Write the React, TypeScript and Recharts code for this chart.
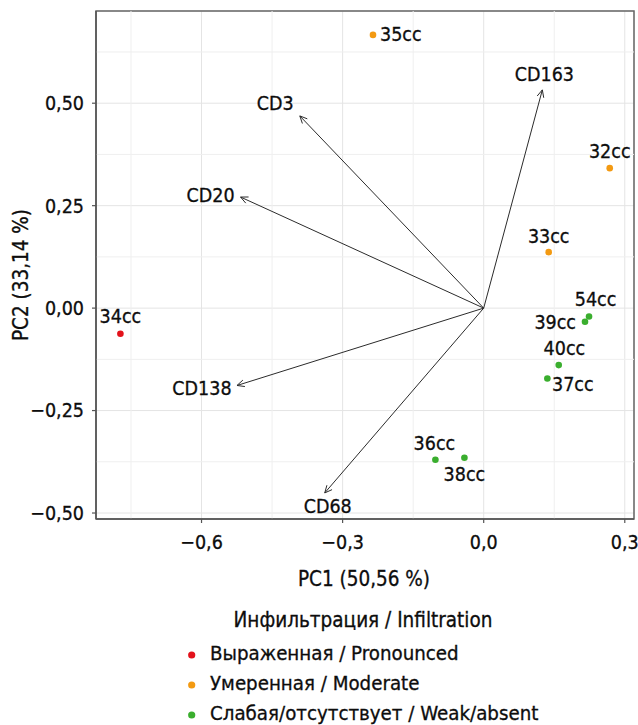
import React from 'react';
import {
  ScatterChart,
  Scatter,
  XAxis,
  YAxis,
  CartesianGrid,
  ReferenceLine,
  ReferenceArea,
  Customized,
} from 'recharts';

const FONT = '"DejaVu Sans Condensed", "DejaVu Sans", sans-serif';
const INK = '#0d0d0d';

// Samples (individuals)
const sampleNames = ['34cc', '35cc', '32cc', '33cc', '54cc', '39cc', '40cc', '37cc', '36cc', '38cc'];
const samplePC1 = [-0.7725, -0.2354, 0.268, 0.1382, 0.224, 0.2154, 0.1595, 0.1354, -0.1027, -0.041];
const samplePC2 = [-0.0627, 0.6667, 0.3415, 0.1366, -0.0205, -0.0334, -0.139, -0.1717, -0.37, -0.365];
const sampleGroup = [0, 1, 1, 1, 2, 2, 2, 2, 2, 2];

// Groups
const groupLabels = ['Выраженная / Pronounced', 'Умеренная / Moderate', 'Слабая/отсутствует / Weak/absent'];
const groupColors = ['#E3121B', '#F39A12', '#3AAE2E'];
const legendTitle = 'Инфильтрация / Infiltration';

// Variables (arrows)
const varNames = ['CD3', 'CD20', 'CD163', 'CD138', 'CD68'];
const varPC1 = [-0.391, -0.517, 0.1247, -0.5246, -0.338];
const varPC2 = [0.469, 0.271, 0.5325, -0.1888, -0.451];

// Axis
const xTicks = [-0.6, -0.3, 0, 0.3];
const yTicks = [-0.5, -0.25, 0, 0.25, 0.5];
const xMinor = [-0.75, -0.45, -0.15, 0.15];
const yMinor = [-0.375, -0.125, 0.125, 0.375, 0.625];
const xDomain = [-0.8244, 0.3196];
const yDomain = [-0.5146, 0.725];
const xTitle = 'PC1 (50,56 %)';
const yTitle = 'PC2 (33,14 %)';

// label placement (pixel offsets relative to mark)
const sampleLabelPos: Record<string, [number, number, string]> = {
  '34cc': [0, -17, 'middle'],
  '35cc': [7, 0, 'start'],
  '32cc': [0, -17, 'middle'],
  '33cc': [0, -16, 'middle'],
  '54cc': [6.5, -17, 'middle'],
  '39cc': [-9, 1, 'end'],
  '40cc': [5.7, -17, 'middle'],
  '37cc': [4.6, 6.3, 'start'],
  '36cc': [-1, -16, 'middle'],
  '38cc': [0, 17, 'middle'],
};
const varLabelPos: Record<string, [number, number]> = {
  CD3: [-24.5, -12],
  CD20: [-30, -2],
  CD163: [2, -15],
  CD138: [-35, 3],
  CD68: [3, 14],
};

const fmt = (dec: number) => (v: number) => {
  const s = Math.abs(v).toFixed(dec).replace('.', ',');
  return v < -1e-9 ? '\u2212' + s : s;
};

const groupData = groupLabels.map((_, g) =>
  sampleNames
    .map((name, i) => ({ name, x: samplePC1[i], y: samplePC2[i], g: sampleGroup[i] }))
    .filter((d) => d.g === g)
);

const textStyle = { fontFamily: FONT, fill: INK, stroke: INK, strokeWidth: 0.3 };

const makeArrowShape = (name: string) => (props: any) => {
  const { x1, y1, x2, y2 } = props;
  if ([x1, y1, x2, y2].some((v) => typeof v !== 'number' || isNaN(v))) return null;
  const ang = Math.atan2(y2 - y1, x2 - x1);
  const L = 8;
  const a = (25 * Math.PI) / 180;
  const p1x = x2 - L * Math.cos(ang - a);
  const p1y = y2 - L * Math.sin(ang - a);
  const p2x = x2 - L * Math.cos(ang + a);
  const p2y = y2 - L * Math.sin(ang + a);
  const [dx, dy] = varLabelPos[name];
  return (
    <g>
      <line x1={x1} y1={y1} x2={x2} y2={y2} stroke="#2b2b2b" strokeWidth={1} />
      <path d={`M${p1x},${p1y} L${x2},${y2} L${p2x},${p2y}`} fill="none" stroke="#2b2b2b" strokeWidth={1} />
      <text x={x2 + dx} y={y2 + dy} textAnchor="middle" dominantBaseline="central" fontSize={19.5} {...textStyle}>
        {name}
      </text>
    </g>
  );
};

const makePointShape = (color: string) => (props: any) => {
  const { cx, cy, payload } = props;
  if (typeof cx !== 'number' || typeof cy !== 'number') return null;
  const [dx, dy, anchor] = sampleLabelPos[payload.name];
  return (
    <g>
      <circle cx={cx} cy={cy} r={3.3} fill={color} />
      <text
        x={cx + dx}
        y={cy + dy}
        textAnchor={anchor as any}
        dominantBaseline="central"
        fontSize={19.5}
        {...textStyle}
      >
        {payload.name}
      </text>
    </g>
  );
};

const Titles = () => (
  <g>
    <text x={364} y={579} textAnchor="middle" dominantBaseline="central" fontSize={20.5} {...textStyle}>
      {xTitle}
    </text>
    <text
      x={21}
      y={275}
      textAnchor="middle"
      dominantBaseline="central"
      fontSize={20.5}
      transform="rotate(-90 21 275)"
      {...textStyle}
    >
      {yTitle}
    </text>
    <text x={363} y={620} textAnchor="middle" dominantBaseline="central" fontSize={20.5} {...textStyle}>
      {legendTitle}
    </text>
    {groupLabels.map((lab, i) => (
      <g key={lab}>
        <circle cx={191.7} cy={655 + i * 30} r={3.6} fill={groupColors[i]} />
        <text x={210} y={653 + i * 30} dominantBaseline="central" fontSize={20.3} {...textStyle}>
          {lab}
        </text>
      </g>
    ))}
  </g>
);

const tickStyle = { fill: INK, stroke: INK, strokeWidth: 0.3, fontSize: 19.5, fontFamily: FONT };

export default function App() {
  return (
    <div style={{ position: 'absolute', left: 0, top: 0, width: 638, height: 725, background: '#fff' }}>
      <ScatterChart width={638} height={725} margin={{ top: 11, right: 4, left: 0, bottom: 166 }}>
        {xMinor.map((v) => (
          <ReferenceLine key={'xm' + v} x={v} stroke="#efefef" strokeWidth={1} />
        ))}
        {yMinor.map((v) => (
          <ReferenceLine key={'ym' + v} y={v} stroke="#efefef" strokeWidth={1} />
        ))}
        <CartesianGrid stroke="#e4e4e4" strokeWidth={1} />
        <XAxis
          type="number"
          dataKey="x"
          domain={xDomain}
          ticks={xTicks}
          allowDataOverflow
          tickFormatter={fmt(1)}
          height={40}
          tickSize={4}
          tickMargin={12}
          axisLine={{ stroke: '#555', strokeWidth: 1.5 }}
          tickLine={{ stroke: '#555', strokeWidth: 1.2 }}
          tick={tickStyle}
        />
        <YAxis
          type="number"
          dataKey="y"
          domain={yDomain}
          ticks={yTicks}
          allowDataOverflow
          tickFormatter={fmt(2)}
          width={96}
          tickSize={4}
          tickMargin={8}
          axisLine={{ stroke: '#555', strokeWidth: 1.5 }}
          tickLine={{ stroke: '#555', strokeWidth: 1.2 }}
          tick={tickStyle}
        />
        <ReferenceArea
          x1={xDomain[0]}
          x2={xDomain[1]}
          y1={yDomain[0]}
          y2={yDomain[1]}
          fill="none"
          stroke="#666"
          strokeWidth={1.5}
          ifOverflow="visible"
        />
        {varNames.map((name, i) => (
          <ReferenceLine
            key={name}
            segment={[
              { x: 0, y: 0 },
              { x: varPC1[i], y: varPC2[i] },
            ]}
            ifOverflow="visible"
            shape={makeArrowShape(name)}
          />
        ))}
        {groupData.map((d, g) => (
          <Scatter
            key={g}
            name={groupLabels[g]}
            data={d}
            fill={groupColors[g]}
            isAnimationActive={false}
            shape={makePointShape(groupColors[g])}
          />
        ))}
        <Customized component={<Titles />} />
      </ScatterChart>
    </div>
  );
}
